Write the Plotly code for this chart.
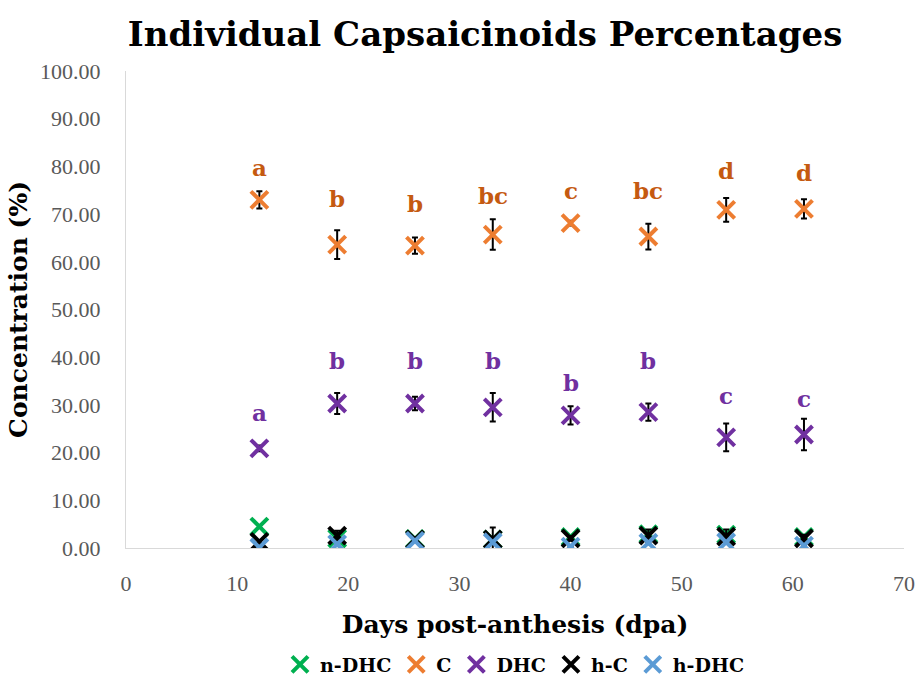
import plotly.graph_objects as go

days = [12, 19, 26, 33, 40, 47, 54, 61]

n_dhc = [4.5, 2.0, 1.9, 1.8, 2.3, 2.9, 2.8, 2.3]
n_dhc_err = [0.3, 0.4, 0.3, 0.4, 0.3, 0.4, 0.4, 0.3]
c_vals = [73.0, 63.6, 63.4, 65.7, 68.1, 65.3, 70.9, 71.1]
c_err = [1.8, 3.0, 1.7, 3.2, 0.5, 2.7, 2.5, 2.0]
dhc = [20.9, 30.3, 30.3, 29.5, 27.8, 28.5, 23.2, 23.8]
dhc_err = [0.6, 2.2, 1.4, 3.0, 1.9, 1.8, 2.9, 3.3]
h_c = [1.3, 2.6, 1.8, 1.8, 2.0, 2.6, 2.4, 2.0]
h_c_err = [0.3, 1.0, 0.4, 2.5, 0.5, 1.3, 1.5, 0.8]
h_dhc = [0.1, 0.8, 1.5, 1.2, 0.3, 1.1, 1.2, 0.5]
h_dhc_err = [0.2, 0.3, 0.3, 0.3, 0.2, 0.3, 0.3, 0.2]

c_letters = ["a", "b", "b", "bc", "c", "bc", "d", "d"]
c_letter_y = [79.7, 73.2, 72.2, 73.8, 74.9, 74.9, 79.1, 78.7]
dhc_letters = ["a", "b", "b", "b", "b", "b", "c", "c"]
dhc_letter_y = [28.5, 39.3, 39.3, 39.3, 34.7, 39.3, 32.0, 31.4]

y_ticks = [0, 10, 20, 30, 40, 50, 60, 70, 80, 90, 100]
x_ticks = [0, 10, 20, 30, 40, 50, 60, 70]

series = [
    ("n-DHC", n_dhc, n_dhc_err, "#00B050"),
    ("C", c_vals, c_err, "#ED7D31"),
    ("DHC", dhc, dhc_err, "#7030A0"),
    ("h-C", h_c, h_c_err, "#000000"),
    ("h-DHC", h_dhc, h_dhc_err, "#5B9BD5"),
]

bold_serif = "DejaVu Serif"
tick_serif = "Liberation Serif"
fig = go.Figure()
for name, vals, err, col in series:
    fig.add_trace(go.Scatter(
        x=days, y=vals, mode="markers", name=name,
        marker=dict(symbol="x-thin", size=17, color=col, line=dict(width=4, color=col)),
        error_y=dict(type="data", array=err, visible=True, color="black", thickness=2, width=3),
    ))

for d, t, y in zip(days, c_letters, c_letter_y):
    fig.add_annotation(x=d, y=y, text=t, showarrow=False,
                       font=dict(family=bold_serif, size=23, color="#C55A11", weight="bold"))
for d, t, y in zip(days, dhc_letters, dhc_letter_y):
    fig.add_annotation(x=d, y=y, text=t, showarrow=False,
                       font=dict(family=bold_serif, size=23, color="#7030A0", weight="bold"))

fig.update_layout(
    width=917, height=678,
    paper_bgcolor="white", plot_bgcolor="white",
    margin=dict(l=126, r=13, t=71, b=130, autoexpand=False),
    title=dict(text="Individual Capsaicinoids Percentages", x=0.529, xanchor="center",
               y=0.949, yanchor="middle",
               font=dict(family=bold_serif, size=34, color="black", weight="bold")),
    xaxis=dict(range=[0, 70], tickvals=x_ticks, showgrid=False, zeroline=False,
               showline=True, linecolor="#D9D9D9", linewidth=1.2, ticks="",
               automargin=False, ticklabelstandoff=15,
               tickfont=dict(family=tick_serif, size=22, color="#595959"),
               title=dict(text="Days post-anthesis (dpa)", standoff=20,
                          font=dict(family=bold_serif, size=25, color="black", weight="bold"))),
    yaxis=dict(range=[0, 100], tickvals=y_ticks, tickformat=".2f", showgrid=False,
               zeroline=False, showline=True, linecolor="#D9D9D9", linewidth=1.2,
               ticks="", automargin=False, ticklabelstandoff=20,
               tickfont=dict(family=tick_serif, size=22, color="#595959"),
               title=dict(text="Concentration (%)", standoff=5,
                          font=dict(family=bold_serif, size=25, color="black", weight="bold"))),
    legend=dict(orientation="h", x=0.5, xanchor="center", yref="container",
                y=0.02, yanchor="middle",
                font=dict(family=bold_serif, size=19, color="black", weight="bold"),
                itemwidth=30, tracegroupgap=0),
    showlegend=True,
)

fig.write_html("out.html", config={"displayModeBar": False},
               post_script="document.body.style.margin='0';document.body.style.padding='0';")
